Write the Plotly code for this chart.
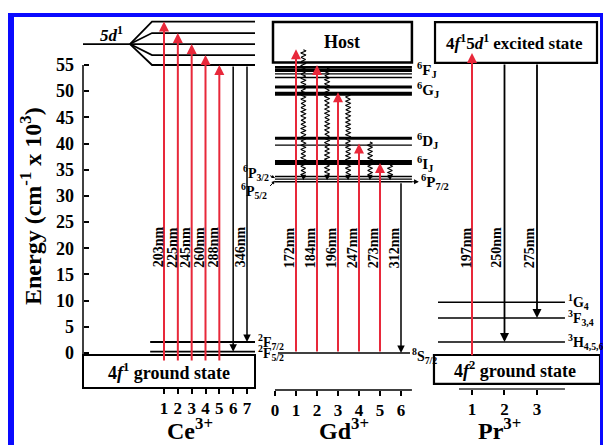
import numpy as np
import plotly.graph_objects as go

# ---------------- data ----------------
energy_ticks = [0, 5, 10, 15, 20, 25, 30, 35, 40, 45, 50, 55]
ce_ticks = [1, 2, 3, 4, 5, 6, 7]
gd_ticks = [0, 1, 2, 3, 4, 5, 6]
pr_ticks = [1, 2, 3]

# Ce3+
ce_5d_barycentre = 59.0
ce_5d_levels = [63.3, 61.1, 59.0, 56.9, 55.0]
ce_4f_levels = [2.1, 0.25]
ce_4f_names = ["<sup>2</sup>F<sub>7/2</sub>", "<sup>2</sup>F<sub>5/2</sub>"]
ce_exc_pos = [1, 2, 3, 4, 5]
ce_exc_top = [63.3, 61.1, 59.0, 56.9, 55.0]
ce_exc_nm = ["203nm", "225nm", "245nm", "260nm", "288nm"]
ce_em_pos = [6, 7]
ce_em_from = [55.0, 55.0]
ce_em_to = [0.25, 2.1]
ce_em_nm = ["", "346nm"]

# Gd3+
gd_6F = [54.6, 54.2, 53.85, 53.3, 52.6]
gd_6G = [50.8, 49.5]
gd_6D = [41.0, 39.7]
gd_6I = [36.4]
gd_6P = [33.7, 33.2, 32.7]
gd_8S = [0.0]
gd_exc_pos = [1, 2, 3, 4, 5]
gd_exc_top = [58.0, 55.0, 49.8, 40.0, 36.3]
gd_exc_nm = ["172nm", "184nm", "196nm", "247nm", "273nm"]
gd_relax_pos = [1.35, 2.48, 3.48, 4.52, 5.48]
gd_relax_from = [57.9, 54.4, 49.5, 40.3, 35.9]
gd_relax_to = 33.0
gd_em_pos = [6]
gd_em_from = [32.7]
gd_em_to = [0.0]
gd_em_nm = ["312nm"]

# Pr3+
pr_levels = [9.7, 6.7, 2.1]
pr_level_names = ["<sup>1</sup>G<sub>4</sub>", "<sup>3</sup>F<sub>3,4</sub>", "<sup>3</sup>H<sub>4,5,6</sub>"]
pr_exc_pos = [1]
pr_exc_top = [57.3]
pr_exc_nm = ["197nm"]
pr_em_pos = [2, 3]
pr_em_from = [55.4, 55.4]
pr_em_to = [2.1, 6.7]
pr_em_nm = ["250nm", "275nm"]

# ---------------- style ----------------
FONT = "Liberation Serif, Times New Roman, serif"
RED = "#e8283a"
BLUE = "#0a0aff"
LABEL_E = 20.2

fig = go.Figure()
ann = []
shapes = []


def f(size, color="black"):
    return dict(family=FONT, size=size, color=color, weight="bold")


def hlines(xref, x0, x1, levels, width):
    xs, ys = [], []
    for e in levels:
        xs += [x0, x1, None]
        ys += [e, e, None]
    fig.add_trace(go.Scatter(x=xs, y=ys, mode="lines", xaxis=xref, yaxis="y",
                             line=dict(color="black", width=width),
                             hoverinfo="skip", showlegend=False))


def arrow(xref, x, y_from, y_to, color, width=2.0, head=2, size=1.0):
    ann.append(dict(x=x, y=y_to, ax=x, ay=y_from, xref=xref, yref="y", axref=xref, ayref="y",
                    text="", showarrow=True, arrowhead=head, arrowsize=size, arrowwidth=width,
                    arrowcolor=color, standoff=0, startstandoff=0))


def wl_label(xref, x, text, shift=-6):
    if text:
        ann.append(dict(x=x, y=LABEL_E, xref=xref, yref="y", text=text, textangle=-90,
                        showarrow=False, xshift=shift, font=f(14)))


def text(xref, x, y, t, size, xanchor="center", yanchor="middle", yshift=0):
    ann.append(dict(x=x, y=y, xref=xref, yref="y", text=t, showarrow=False,
                    xanchor=xanchor, yanchor=yanchor, font=f(size), yshift=yshift))


def box(xref, x0, x1, y0, y1, width=2):
    shapes.append(dict(type="rect", xref=xref, yref="y", x0=x0, x1=x1, y0=y0, y1=y1,
                       line=dict(color="black", width=width), fillcolor="rgba(0,0,0,0)"))


# ---------------- Ce3+ panel (xaxis 'x') ----------------
CE_L, CE_R = -4.856, 7.578
fan_x = -1.458
split_x = 0.132
xs, ys = [CE_L, fan_x, None], [ce_5d_barycentre, ce_5d_barycentre, None]
for e in ce_5d_levels:
    xs += [fan_x, split_x, CE_R, None]
    ys += [ce_5d_barycentre, e, e, None]
fig.add_trace(go.Scatter(x=xs, y=ys, mode="lines", xaxis="x", yaxis="y",
                         line=dict(color="black", width=1.8), hoverinfo="skip", showlegend=False))
hlines("x", 0.0, CE_R, ce_4f_levels, 1.8)
box("x", CE_L, CE_R, -6.68, -0.38)
shapes.append(dict(type="line", xref="x", yref="y", x0=CE_L, x1=CE_L, y0=-6.68, y1=55,
                   line=dict(color="black", width=1.5)))
for x, top, nm in zip(ce_exc_pos, ce_exc_top, ce_exc_nm):
    arrow("x", x, -1.7, top, RED, 2.0)
    wl_label("x", x, nm)
for x, a, b, nm in zip(ce_em_pos, ce_em_from, ce_em_to, ce_em_nm):
    arrow("x", x, a, b, "black", 1.5)
    wl_label("x", x, nm, shift=-7)
text("x", -2.83, 60.9, "<i>5d</i><sup>1</sup>", 17)
for e, nm, dy in zip(ce_4f_levels, ce_4f_names, [0, -1]):
    text("x", 7.62, e, nm, 14, xanchor="left", yshift=dy)
text("x", (CE_L + CE_R) / 2, -3.5, "4<i>f</i><sup>1</sup> ground state", 18)

# ---------------- Gd3+ panel (xaxis 'x2') ----------------
GD_L, GD_R = 0.0, 6.52
box("x2", -0.095, GD_R, 55.48, 63.21, 2.5)
text("x2", (-0.095 + GD_R) / 2, 59.4, "Host", 18)
hlines("x2", GD_L, GD_R, gd_6F[:3], 2.0)
hlines("x2", GD_L, GD_R, gd_6F[3:], 1.4)
hlines("x2", GD_L, GD_R, gd_6G[:1], 3.0)
hlines("x2", GD_L, GD_R, gd_6G[1:], 4.0)
hlines("x2", GD_L, GD_R, gd_6D[:1], 3.0)
hlines("x2", GD_L, GD_R, gd_6D[1:], 1.4)
hlines("x2", GD_L, GD_R, gd_6I, 5.0)
hlines("x2", GD_L, GD_R, gd_6P, 1.4)
hlines("x2", 0.14, 6.43, gd_8S, 1.6)
for x, top, nm in zip(gd_exc_pos, gd_exc_top, gd_exc_nm):
    arrow("x2", x, 0.0, top, RED, 2.0)
    wl_label("x2", x, nm, shift=-7)
for x, a, b, nm in zip(gd_em_pos, gd_em_from, gd_em_to, gd_em_nm):
    arrow("x2", x, a, b, "black", 1.5)
    wl_label("x2", x, nm, shift=-7)
# wavy non-radiative relaxation
amp, period = 0.11, 0.8
for x0, e0 in zip(gd_relax_pos, gd_relax_from):
    yy = np.linspace(e0, gd_relax_to + 0.5, int((e0 - gd_relax_to) / period * 12) + 2)
    xx = x0 + amp * np.sin(2 * np.pi * (e0 - yy) / period)
    fig.add_trace(go.Scatter(x=xx, y=yy, mode="lines", xaxis="x2", yaxis="y",
                             line=dict(color="black", width=1.1), hoverinfo="skip", showlegend=False))
    arrow("x2", x0, gd_relax_to + 0.9, gd_relax_to, "black", 1.1, head=2, size=1.0)
for e, nm in zip([54.0, 50.2, 40.4, 36.0], ["<sup>6</sup>F<sub>J</sub>", "<sup>6</sup>G<sub>J</sub>",
                                             "<sup>6</sup>D<sub>J</sub>", "<sup>6</sup>I<sub>J</sub>"]):
    text("x2", 6.68, e, nm, 15, xanchor="left")
ann.append(dict(x=6.85, y=gd_6P[-1], ax=6.43, ay=gd_6P[-1], xref="x2", yref="y", axref="x2",
                ayref="y", text="", showarrow=True, arrowhead=2, arrowsize=0.8, arrowwidth=1.2,
                arrowcolor="black", standoff=0))
text("x2", 6.85, gd_6P[-1], "<sup>6</sup>P<sub>7/2</sub>", 15, xanchor="left")
text("x2", 6.45, -0.6, "<sup>8</sup>S<sub>7/2</sub>", 14, xanchor="left")
text("x2", -0.2, 34.4, "<sup>6</sup>P<sub>3/2</sub>", 14, xanchor="right")
text("x2", -0.3, 31.0, "<sup>6</sup>P<sub>5/2</sub>", 14, xanchor="right")
ann.append(dict(x=0.0, y=33.4, ax=-0.3, ay=34.0, xref="x2", yref="y", axref="x2", ayref="y",
                text="", showarrow=True, arrowhead=2, arrowsize=0.7, arrowwidth=1.0,
                arrowcolor="black", standoff=0))
ann.append(dict(x=0.0, y=32.9, ax=-0.3, ay=31.6, xref="x2", yref="y", axref="x2", ayref="y",
                text="", showarrow=True, arrowhead=2, arrowsize=0.7, arrowwidth=1.0,
                arrowcolor="black", standoff=0))
shapes.append(dict(type="line", xref="x2", yref="y", x0=0, x1=GD_R, y0=-7.07, y1=-7.07,
                   line=dict(color="black", width=1.5)))

# ---------------- Pr3+ panel (xaxis 'x3') ----------------
box("x3", -0.138, 4.846, 55.4, 63.2, 2.2)
text("x3", 2.3, 59.3, "4<i>f</i><sup>1</sup>5<i>d</i><sup>1</sup> excited state", 17)
box("x3", -0.17, 4.94, -5.9, -0.38, 2.2)
text("x3", 2.33, -3.2, "4<i>f</i><sup>2</sup> ground state", 18)
hlines("x3", -0.046, 3.86, pr_levels, 1.5)
for x, top, nm in zip(pr_exc_pos, pr_exc_top, pr_exc_nm):
    arrow("x3", x, -0.7, top, RED, 2.0)
    wl_label("x3", x, nm, shift=-6)
for x, a, b, nm in zip(pr_em_pos, pr_em_from, pr_em_to, pr_em_nm):
    arrow("x3", x, a, b, "black", 1.8)
    wl_label("x3", x, nm, shift=-8)
for e, nm in zip(pr_levels, pr_level_names):
    text("x3", 3.9, e, nm, 14, xanchor="left")
shapes.append(dict(type="line", xref="x3", yref="y", x0=0.6, x1=3.86, y0=-6.88, y1=-6.88,
                   line=dict(color="#666666", width=2)))

# ---------------- titles ----------------
for px, t in [(190, "Ce<sup>3+</sup>"), (344, "Gd<sup>3+</sup>"), (499, "Pr<sup>3+</sup>")]:
    ann.append(dict(x=(px - 70) / 533, y=0, xref="paper", yref="paper", xanchor="center",
                    yanchor="bottom", yshift=-1, text=t, showarrow=False, font=f(24)))
ann.append(dict(x=(31 - 70) / 533, y=(445 - 206) / 445, xref="paper", yref="paper",
                xanchor="center", yanchor="middle",
                text="Energy (cm<sup>-1</sup> x 10<sup>3</sup>)", textangle=-90,
                showarrow=False, font=f(24)))

# blue frame
shapes.append(dict(type="line", xref="paper", yref="paper", x0=(8 - 70) / 533, x1=(603 - 70) / 533,
                   y0=(445 - 15) / 445, y1=(445 - 15) / 445, line=dict(color=BLUE, width=4)))
shapes.append(dict(type="line", xref="paper", yref="paper", x0=(11 - 70) / 533, x1=(11 - 70) / 533,
                   y0=(445 - 13) / 445, y1=-0.01, line=dict(color=BLUE, width=6)))
shapes.append(dict(type="line", xref="paper", yref="paper", x0=(601.5 - 70) / 533, x1=(601.5 - 70) / 533,
                   y0=(445 - 13) / 445, y1=-0.01, line=dict(color=BLUE, width=3)))

tick_common = dict(ticks="outside", ticklen=5, tickwidth=1.5, tickcolor="black",
                   showline=False, showgrid=False, zeroline=False, tickfont=f(17),
                   anchor="free", ticklabelstandoff=0)

fig.update_layout(
    width=603, height=445, autosize=False,
    margin=dict(l=70, r=0, t=0, b=0, pad=0),
    paper_bgcolor="white", plot_bgcolor="rgba(0,0,0,0)",
    showlegend=False,
    xaxis=dict(domain=[0, 0.35272], range=[-5.7955, 7.7951], position=0.12809,
               tickvals=ce_ticks, **tick_common),
    xaxis2=dict(domain=[0.35272, 0.67917], range=[-0.8095, 7.4762], position=0.12360,
                tickvals=gd_ticks, **tick_common),
    xaxis3=dict(domain=[0.67917, 1.0], range=[-0.23077, 5.03077], position=0.12584,
                tickvals=pr_ticks, **tick_common),
    yaxis=dict(domain=[0, 1], range=[-17.569, 67.413], anchor="free", position=0.02439,
               tickvals=energy_ticks, ticks="inside", ticklen=5, tickwidth=1.5, tickcolor="black",
               showline=False, showgrid=False, zeroline=False, tickfont=f(18),
               ticklabelstandoff=9),
    annotations=ann,
    shapes=shapes,
)

fig.write_html("out.html", config={"displayModeBar": False},
               post_script="document.body.style.margin='0px';")
